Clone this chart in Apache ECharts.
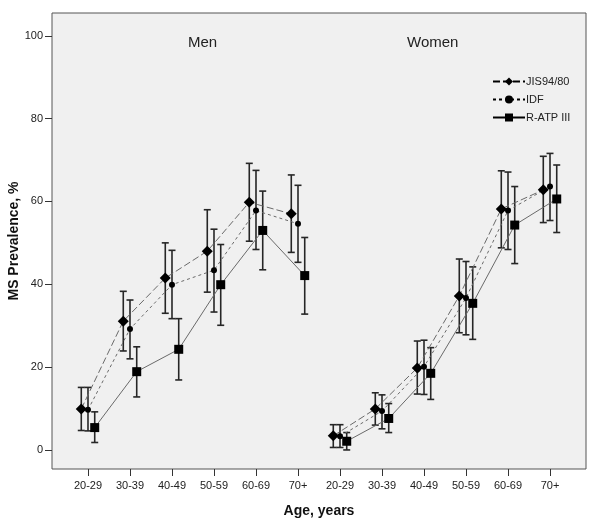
<!DOCTYPE html>
<html>
<head>
<meta charset="utf-8">
<script src="https://cdn.jsdelivr.net/npm/echarts@6/dist/echarts.min.js"></script>
<style>
html,body{margin:0;padding:0;background:#fff;}
#chart{width:600px;height:527px;}
</style>
</head>
<body>
<div id="chart"></div>
<script>
// ---- Data ----
const ageGroups = ['20-29', '30-39', '40-49', '50-59', '60-69', '70+'];
const groupLabels = ['Men', 'Women'];
const seriesNames = ['JIS94/80', 'IDF', 'R-ATP III'];
const yTicks = [0, 20, 40, 60, 80, 100];

// Men
const jisMen      = [9.9, 31.1, 41.5, 48.0, 59.8, 57.0];
const jisMenLow   = [4.7, 23.9, 33.0, 38.1, 50.4, 47.7];
const jisMenHigh  = [15.1, 38.3, 50.0, 58.0, 69.2, 66.4];
const idfMen      = [9.7, 29.2, 39.9, 43.4, 57.8, 54.6];
const idfMenLow   = [4.6, 22.0, 31.7, 33.3, 48.4, 45.3];
const idfMenHigh  = [15.1, 36.2, 48.2, 53.3, 67.5, 63.9];
const atpMen      = [5.4, 18.9, 24.3, 39.9, 53.0, 42.1];
const atpMenLow   = [1.8, 12.8, 16.9, 30.1, 43.5, 32.8];
const atpMenHigh  = [9.2, 24.9, 31.7, 49.6, 62.5, 51.3];

// Women
const jisWomen     = [3.4, 9.9, 19.8, 37.2, 58.2, 62.8];
const jisWomenLow  = [0.6, 6.0, 13.5, 28.3, 48.8, 54.9];
const jisWomenHigh = [6.1, 13.8, 26.3, 46.1, 67.4, 70.9];
const idfWomen     = [3.3, 9.4, 20.1, 36.7, 57.8, 63.6];
const idfWomenLow  = [0.6, 5.1, 13.4, 27.8, 48.4, 55.4];
const idfWomenHigh = [6.1, 13.3, 26.5, 45.5, 67.1, 71.6];
const atpWomen     = [2.1, 7.6, 18.5, 35.4, 54.3, 60.6];
const atpWomenLow  = [0.0, 4.2, 12.2, 26.7, 45.0, 52.5];
const atpWomenHigh = [4.2, 11.2, 24.7, 44.2, 63.6, 68.8];

// ---- Build ----
const nG = ageGroups.length;
const allLabels = ageGroups.concat(ageGroups);
const catIdx = allLabels.map((_, i) => i);
const offs = [-0.16, 0, 0.16];
const FONT = 'Liberation Sans, Arial, sans-serif';

const defs = [
  { name: seriesNames[0], symbol: 'diamond', size: 11, line: { type: [7, 3], width: 1 },
    groups: [[jisMen, jisMenLow, jisMenHigh], [jisWomen, jisWomenLow, jisWomenHigh]] },
  { name: seriesNames[1], symbol: 'circle', size: 6, line: { type: [3, 3], width: 1 },
    groups: [[idfMen, idfMenLow, idfMenHigh], [idfWomen, idfWomenLow, idfWomenHigh]] },
  { name: seriesNames[2], symbol: 'rect', size: 9, line: { type: 'solid', width: 1 },
    groups: [[atpMen, atpMenLow, atpMenHigh], [atpWomen, atpWomenLow, atpWomenHigh]] }
];

const series = [];
defs.forEach((d, si) => {
  d.groups.forEach((g, gi) => {
    const [vals, lows, highs] = g;
    const base = gi * nG;
    series.push({
      type: 'custom',
      name: d.name + '_err' + gi,
      z: 3,
      silent: true,
      renderItem: function (params, api) {
        const x = api.value(0);
        const p1 = api.coord([x, api.value(1)]);
        const p2 = api.coord([x, api.value(2)]);
        const hw = 3.5;
        const st = { stroke: '#262626', lineWidth: 1.6 };
        return {
          type: 'group',
          children: [
            { type: 'line', shape: { x1: p1[0], y1: p1[1], x2: p2[0], y2: p2[1] }, style: st },
            { type: 'line', shape: { x1: p1[0] - hw, y1: p1[1], x2: p1[0] + hw, y2: p1[1] }, style: st },
            { type: 'line', shape: { x1: p2[0] - hw, y1: p2[1], x2: p2[0] + hw, y2: p2[1] }, style: st }
          ]
        };
      },
      encode: { x: 0, y: [1, 2] },
      data: lows.map((l, i) => [base + i + offs[si], l, highs[i]])
    });
    series.push({
      type: 'line',
      name: d.name,
      z: 5,
      symbol: d.symbol,
      symbolSize: d.size,
      showSymbol: true,
      itemStyle: { color: '#000' },
      lineStyle: { color: '#6a6a6a', width: d.line.width, type: d.line.type },
      emphasis: { disabled: true },
      data: vals.map((v, i) => [base + i + offs[si], v])
    });
  });
});

const chart = echarts.init(document.getElementById('chart'), null, { renderer: 'canvas' });
chart.setOption({
  animation: false,
  backgroundColor: '#fff',
  grid: {
    left: 52, right: 14, top: 13, bottom: 58,
    containLabel: false,
    outerBoundsMode: 'none',
    show: true, backgroundColor: '#f0f0f0', borderColor: '#555', borderWidth: 1
  },
  legend: {
    data: seriesNames,
    orient: 'vertical',
    left: 487, top: 71,
    itemWidth: 32, itemHeight: 10, itemGap: 7,
    textStyle: { fontFamily: FONT, fontSize: 11, color: '#222', padding: [0, 0, 0, -4] },
    lineStyle: { color: '#000' },
    itemStyle: { color: '#000' }
  },
  xAxis: {
    type: 'value',
    min: -0.857, max: 11.857,
    name: 'Age, years',
    nameLocation: 'middle',
    nameGap: 35,
    nameTextStyle: { fontFamily: FONT, fontSize: 14, fontWeight: 'bold', color: '#111' },
    axisLine: { show: false, onZero: false },
    splitLine: { show: false },
    axisTick: { show: true, customValues: catIdx, length: 7, lineStyle: { color: '#333' } },
    axisLabel: {
      customValues: catIdx,
      formatter: v => allLabels[Math.round(v)],
      fontFamily: FONT, fontSize: 11, color: '#222', margin: 11
    }
  },
  yAxis: {
    type: 'value',
    min: -4.6, max: 105.5,
    name: 'MS Prevalence, %',
    nameLocation: 'middle',
    nameGap: 31,
    nameMoveOverlap: false,
    nameTextStyle: { fontFamily: FONT, fontSize: 14, fontWeight: 'bold', color: '#111' },
    axisLine: { show: false, onZero: false },
    splitLine: { show: false },
    axisTick: { show: true, customValues: yTicks, length: 7, lineStyle: { color: '#333' } },
    axisLabel: {
      customValues: yTicks,
      fontFamily: FONT, fontSize: 11, color: '#222', margin: 9
    }
  },
  graphic: [
    { type: 'text', left: 188, top: 35, style: { text: groupLabels[0], font: '15px "Liberation Sans", Arial, sans-serif', fill: '#222' } },
    { type: 'text', left: 407, top: 35, style: { text: groupLabels[1], font: '15px "Liberation Sans", Arial, sans-serif', fill: '#222' } }
  ],
  series: series
});
</script>
</body>
</html>
